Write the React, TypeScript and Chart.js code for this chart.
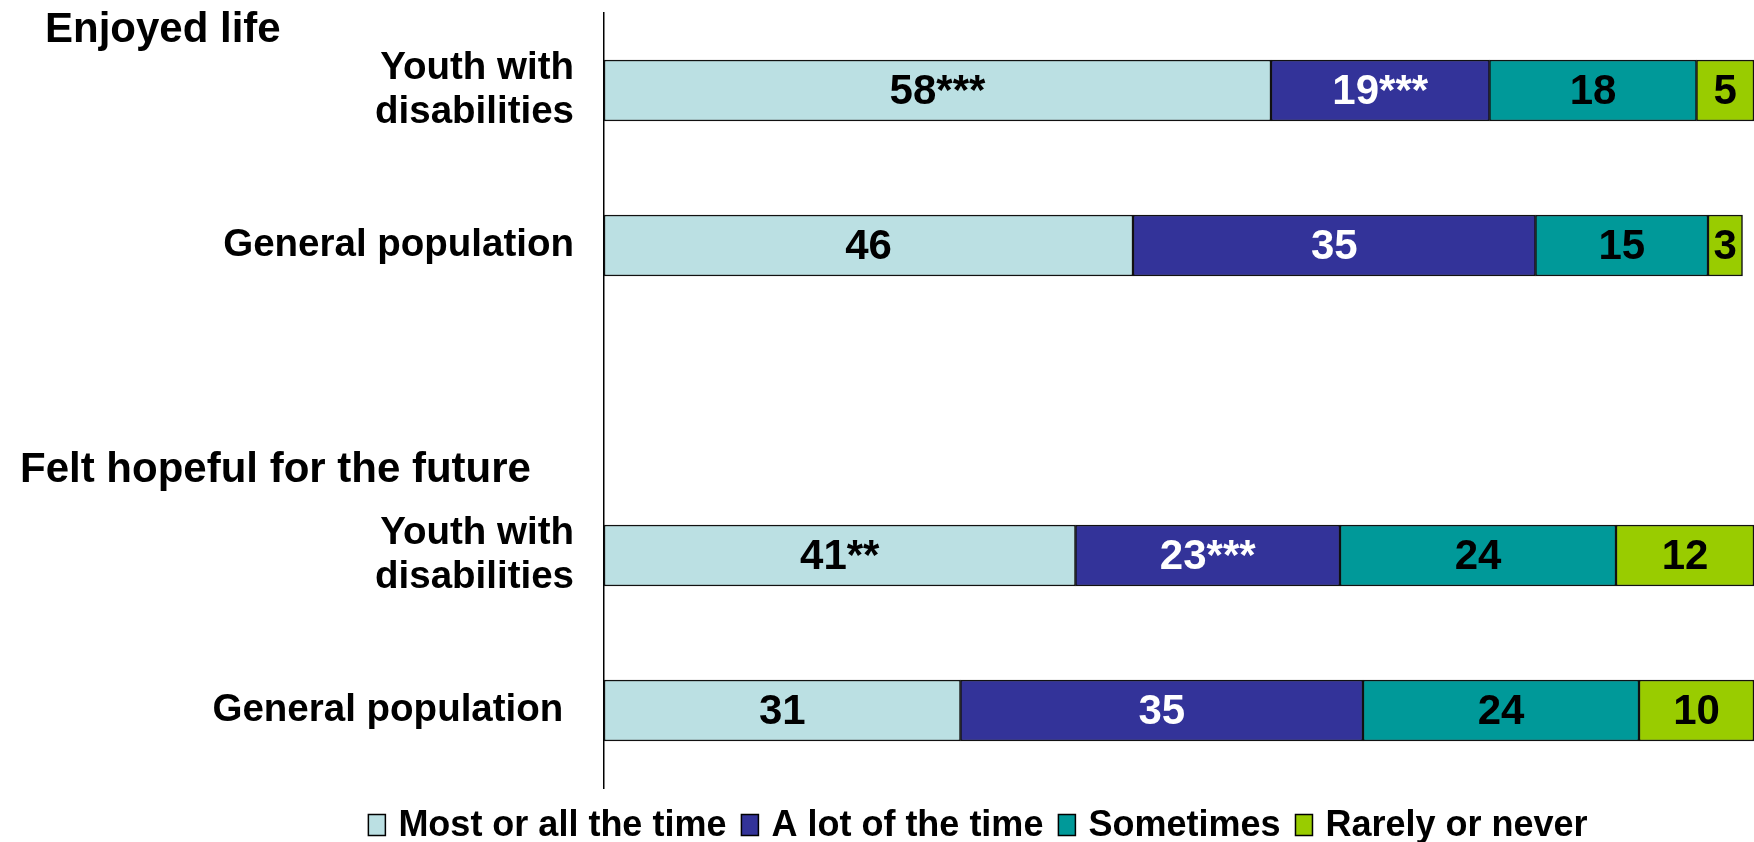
import React, { useEffect, useRef } from "react";
import { Chart, registerables } from "chart.js";

Chart.register(...registerables);

// Rows of the stacked bar chart (an empty slot separates the two questions)
const CATEGORIES: (string | string[])[] = [
  ["Youth with", "disabilities"],
  "General population",
  "",
  ["Youth with", "disabilities"],
  "General population ",
];

const GROUP_TITLES = ["Enjoyed life", "Felt hopeful for the future"];

const SERIES_NAMES = ["Most or all the time", "A lot of the time", "Sometimes", "Rarely or never"];

// Percentages per row
const MOST = [58, 46, null, 41, 31];
const A_LOT = [19, 35, null, 23, 35];
const SOMETIMES = [18, 15, null, 24, 24];
const RARELY = [5, 3, null, 12, 10];

// Significance markers appended to value labels
const MOST_SIG = ["***", "", "", "**", ""];
const A_LOT_SIG = ["***", "", "", "***", ""];
const SOMETIMES_SIG = ["", "", "", "", ""];
const RARELY_SIG = ["", "", "", "", ""];

const COLORS = ["#BBE0E3", "#333399", "#009999", "#99CC00"];
const LABEL_COLORS = ["#000000", "#FFFFFF", "#000000", "#000000"];

const FONT = "'Liberation Sans', Arial, Helvetica, sans-serif";

const valueLabels = {
  id: "valueLabels",
  afterDatasetsDraw(chart: any) {
    const ctx = chart.ctx;
    const sigs = [MOST_SIG, A_LOT_SIG, SOMETIMES_SIG, RARELY_SIG];
    ctx.save();
    ctx.font = `bold 42px ${FONT}`;
    ctx.textAlign = "center";
    ctx.textBaseline = "middle";
    chart.data.datasets.forEach((ds: any, di: number) => {
      const meta = chart.getDatasetMeta(di);
      meta.data.forEach((bar: any, i: number) => {
        const v = ds.data[i];
        if (v === null || v === undefined) return;
        const { x, base, y } = bar.getProps(["x", "base", "y"], true);
        ctx.fillStyle = LABEL_COLORS[di];
        ctx.fillText(String(v) + sigs[di][i], (x + base) / 2, y + 2);
      });
    });
    ctx.restore();
  },
};

const groupTitles = {
  id: "groupTitles",
  afterDraw(chart: any) {
    const ctx = chart.ctx;
    const y = chart.scales.y;
    ctx.save();
    ctx.font = `bold 42px ${FONT}`;
    ctx.fillStyle = "#000";
    ctx.textAlign = "left";
    ctx.textBaseline = "alphabetic";
    ctx.fillText(GROUP_TITLES[0], 45, y.getPixelForValue(0) - 49);
    ctx.fillText(GROUP_TITLES[1], 20, y.getPixelForValue(3) - 74);
    ctx.restore();
  },
};

const bottomLegend = {
  id: "bottomLegend",
  afterDraw(chart: any) {
    const ctx = chart.ctx;
    ctx.save();
    ctx.font = `bold 36px ${FONT}`;
    const boxW = 17;
    const boxH = 21;
    const gapText = 13;
    const gapItem = 15;
    const widths = SERIES_NAMES.map((n) => ctx.measureText(n).width);
    const total =
      widths.reduce((a, w) => a + boxW + gapText + w, 0) + gapItem * (SERIES_NAMES.length - 1);
    const centerX = 978;
    const cy = 825;
    let x = centerX - total / 2;
    SERIES_NAMES.forEach((name, i) => {
      ctx.fillStyle = COLORS[i];
      ctx.fillRect(x, cy - boxH / 2, boxW, boxH);
      ctx.strokeStyle = "#000";
      ctx.lineWidth = 1.5;
      ctx.strokeRect(x, cy - boxH / 2, boxW, boxH);
      x += boxW + gapText;
      ctx.fillStyle = "#000";
      ctx.textAlign = "left";
      ctx.textBaseline = "middle";
      ctx.fillText(name, x, cy + 1);
      x += widths[i] + gapItem;
    });
    ctx.restore();
  },
};

export default function App() {
  const canvasRef = useRef<HTMLCanvasElement | null>(null);

  useEffect(() => {
    if (!canvasRef.current) return;
    const series = [MOST, A_LOT, SOMETIMES, RARELY];
    const chart = new Chart(canvasRef.current, {
      type: "bar",
      data: {
        labels: CATEGORIES,
        datasets: series.map((d, i) => ({
          label: SERIES_NAMES[i],
          data: d,
          backgroundColor: COLORS[i],
          borderColor: "#111",
          borderWidth: 1.5,
          borderSkipped: false,
          barThickness: 61,
        })),
      },
      options: {
        indexAxis: "y",
        responsive: false,
        animation: false,
        layout: { padding: { top: 13, bottom: 54, left: 0, right: 0 } },
        plugins: {
          legend: { display: false },
          tooltip: { enabled: false },
        },
        scales: {
          x: {
            stacked: true,
            min: 0,
            max: 100,
            display: false,
          },
          y: {
            type: "category",
            stacked: true,
            offset: true,
            grid: { display: false, drawTicks: false },
            border: { display: true, color: "#000", width: 1.5 },
            ticks: {
              autoSkip: false,
              padding: 30,
              color: "#000",
              font: { family: FONT, size: 38.5, weight: "bold", lineHeight: 1.13 },
            },
            afterFit: (scale: any) => {
              scale.width = 604;
              scale.paddingTop = 0;
              scale.paddingBottom = 0;
            },
          },
        },
      },
      plugins: [valueLabels, groupTitles, bottomLegend],
    } as any);
    return () => chart.destroy();
  }, []);

  return (
    <canvas
      ref={canvasRef}
      width={1754}
      height={842}
      style={{ position: "absolute", left: 0, top: 0, display: "block", background: "#fff" }}
    />
  );
}
